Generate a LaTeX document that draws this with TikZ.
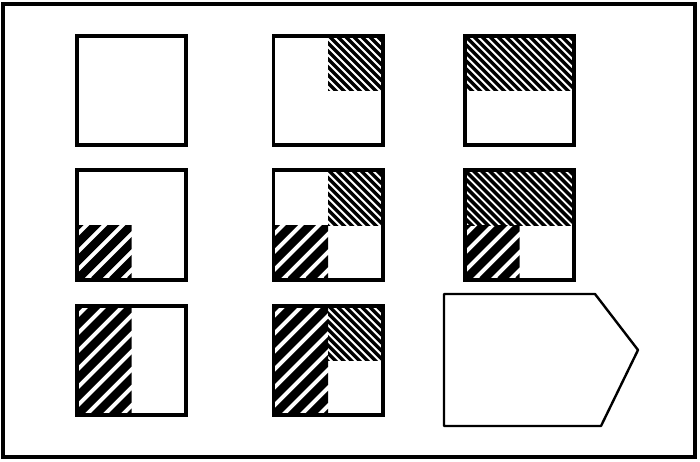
\documentclass[tikz,border=0pt]{standalone}
\usepackage{tikz}
\usetikzlibrary{positioning}
\tikzset{
  frame/.style={draw=black,line width=4pt},
  cell/.style={draw=black,line width=2.6pt,minimum size=108pt,inner sep=0pt},
  fineln/.style={draw=black,line width=3.4pt},
  coarseln/.style={draw=black,line width=8.5pt},
  answer/.style={draw=black,line width=2.4pt,line join=round},
}
% fine "\" hatching inside the box (#1) to (#2)
\newcommand{\hatchfine}[2]{%
  \begin{scope}
    \clip (#1) rectangle (#2);
    \foreach \k in {-160,-152,...,160}
      \draw[fineln] ([xshift=\k pt]#1) -- ++(160,160);
  \end{scope}}
% coarse "/" hatching inside the box (#1) to (#2)
\newcommand{\hatchcoarse}[2]{%
  \begin{scope}
    \clip (#1) rectangle (#2);
    \foreach \k in {-180,-162,...,180}
      \draw[coarseln] ([xshift=\k pt]#1 |- #2) -- ++(180,-180);
  \end{scope}}

\begin{document}
\begin{tikzpicture}[x=1pt,y=-1pt,node distance=24pt and 86pt]
  \useasboundingbox (0,0) rectangle (700,462);
  \draw[frame] (3,4) rectangle (695,457);

  % the eight cells
  \node[cell] (r1c1) at (131.5,90.5) {};
  \node[cell,right=86pt of r1c1] (r1c2) {};
  \node[cell,right=81pt of r1c2] (r1c3) {};
  \node[cell,below=24pt of r1c1] (r2c1) {};
  \node[cell,below=24pt of r1c2] (r2c2) {};
  \node[cell,below=24pt of r1c3] (r2c3) {};
  \node[cell,below=25pt of r2c1] (r3c1) {};
  \node[cell,below=25pt of r2c2] (r3c2) {};

  % row 1
  \hatchfine{r1c2.north}{r1c2.east}
  \hatchfine{r1c3.north west}{r1c3.east}
  % row 2
  \hatchcoarse{r2c1.west}{r2c1.south}
  \hatchfine{r2c2.north}{r2c2.east}
  \hatchcoarse{r2c2.west}{r2c2.south}
  \hatchfine{r2c3.north west}{r2c3.east}
  \hatchcoarse{r2c3.west}{r2c3.south}
  % row 3
  \hatchcoarse{r3c1.north west}{r3c1.south}
  \hatchfine{r3c2.north}{r3c2.east}
  \hatchcoarse{r3c2.north west}{r3c2.south}

  % redraw the borders over the hatching
  \foreach \c in {r1c1,r1c2,r1c3,r2c1,r2c2,r2c3,r3c1,r3c2}
    \draw[line width=2.6pt] (\c.north west) rectangle (\c.south east);

  % answer slot
  \draw[answer] (444,294) -- (595,294) -- (638,350) -- (601,426) -- (444,426) -- cycle;
\end{tikzpicture}
\end{document}
